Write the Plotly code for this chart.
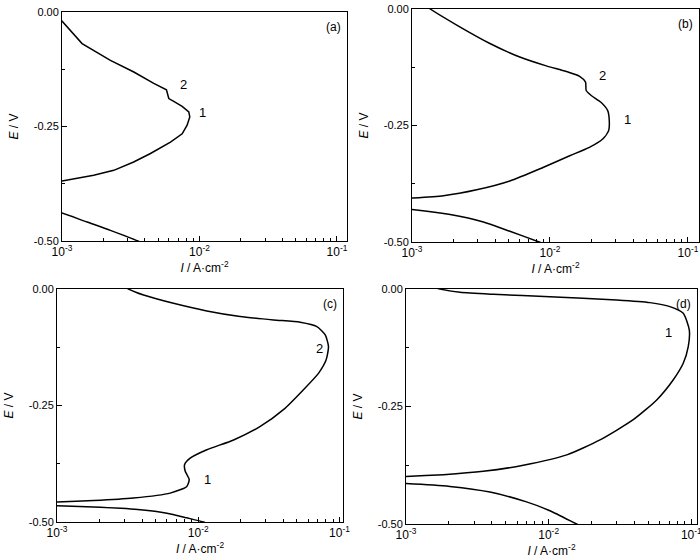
import math
import plotly.graph_objects as go

# ---------------- data ----------------
# Panel (a)
a_up_I = [9e-4, 1.0e-3, 1.40e-3, 2.25e-3, 3.33e-3, 4.65e-3, 5.75e-3, 5.85e-3, 5.98e-3, 6.5e-3, 7.48e-3,
          8.36e-3, 8.5e-3, 8.13e-3, 7.48e-3, 6.15e-3, 4.40e-3, 3.32e-3, 2.38e-3, 1.70e-3, 1.22e-3, 1.0e-3, 9e-4]
a_up_E = [-0.010, -0.020, -0.069, -0.1055, -0.131, -0.156, -0.170, -0.177, -0.189, -0.195, -0.206,
          -0.218, -0.229, -0.247, -0.266, -0.284, -0.309, -0.3275, -0.3457, -0.3566, -0.3654, -0.369, -0.371]
a_lo_I = [9e-4, 1.0e-3, 1.52e-3, 2.25e-3, 3.56e-3, 4.0e-3]
a_lo_E = [-0.435, -0.439, -0.4585, -0.4767, -0.500, -0.508]

# Panel (b)
b_up_I = [1.3e-3, 1.355e-3, 2.11e-3, 3.67e-3, 6.04e-3, 9.4e-3, 1.31e-2, 1.64e-2, 1.81e-2, 1.83e-2, 1.99e-2,
          2.34e-2, 2.62e-2, 2.69e-2, 2.66e-2, 2.41e-2, 1.93e-2, 1.39e-2, 8.9e-3, 5.12e-3, 2.94e-3, 1.69e-3, 1.0e-3, 9e-4]
b_up_E = [0.004, 0.0, -0.0345, -0.074, -0.103, -0.122, -0.134, -0.1446, -0.157, -0.175, -0.1856,
          -0.200, -0.218, -0.2396, -0.261, -0.279, -0.297, -0.315, -0.340, -0.369, -0.388, -0.4007, -0.4058, -0.4065]
b_lo_I = [9e-4, 1.0e-3, 1.89e-3, 3.29e-3, 5.12e-3, 8.34e-3, 9.0e-3]
b_lo_E = [-0.429, -0.430, -0.441, -0.457, -0.477, -0.500, -0.504]

# Panel (c)
c_up_I = [3.1e-3, 3.21e-3, 4.1e-3, 6.68e-3, 1.15e-2, 1.98e-2, 3.41e-2, 5.27e-2, 6.92e-2, 7.93e-2, 8.36e-2,
          8.05e-2, 7.1e-2, 5.56e-2, 4.01e-2, 2.75e-2, 1.78e-2, 1.15e-2, 8.77e-3, 8.0e-3, 8.09e-3, 8.63e-3,
          8.3e-3, 6.33e-3, 3.48e-3, 1.82e-3, 1.0e-3, 9e-4]
c_up_E = [0.003, 0.0, -0.0129, -0.0307, -0.047, -0.059, -0.0664, -0.0714, -0.0807, -0.0986, -0.1236,
          -0.152, -0.181, -0.216, -0.259, -0.295, -0.324, -0.345, -0.363, -0.377, -0.391, -0.409,
          -0.4236, -0.438, -0.4486, -0.454, -0.457, -0.4575]
c_lo_I = [9e-4, 1.0e-3, 2.03e-3, 3.89e-3, 6.0e-3, 8.3e-3, 1.09e-2, 1.15e-2]
c_lo_E = [-0.4645, -0.465, -0.4686, -0.4736, -0.481, -0.491, -0.500, -0.503]

# Panel (d)
d_up_I = [1.6e-3, 1.73e-3, 2.39e-3, 4.1e-3, 1.02e-2, 3.0e-2, 5.13e-2, 7.08e-2, 8.78e-2, 9.68e-2, 9.52e-2,
          8.78e-2, 7.48e-2, 5.72e-2, 3.92e-2, 2.29e-2, 1.34e-2, 6.64e-3, 3.48e-3, 1.83e-3, 1.0e-3, 9e-4]
d_up_E = [0.003, 0.0, -0.007, -0.0113, -0.0163, -0.0234, -0.029, -0.0375, -0.0517, -0.0871, -0.1225,
          -0.158, -0.193, -0.236, -0.278, -0.321, -0.353, -0.375, -0.388, -0.395, -0.399, -0.3995]
d_lo_I = [9e-4, 1.0e-3, 2.03e-3, 3.88e-3, 7.0e-3, 1.02e-2, 1.57e-2, 1.7e-2]
d_lo_E = [-0.4135, -0.414, -0.420, -0.432, -0.453, -0.4717, -0.500, -0.505]

panel_labels = ["(a)", "(b)", "(c)", "(d)"]
x_tick_vals = [1e-3, 1e-2, 1e-1]
x_tick_text = ["10<sup>-3</sup>", "10<sup>-2</sup>", "10<sup>-1</sup>"]
y_tick_vals = [0.0, -0.25, -0.5]
y_tick_text = ["0.00", "-0.25", "-0.50"]

# curve number labels: (panel index, text, I, E)
curve_labels = [
    (0, "2", 7.6e-3, -0.159), (0, "1", 1.05e-2, -0.22),
    (1, "2", 2.42e-2, -0.142), (1, "1", 3.67e-2, -0.237),
    (2, "2", 7.26e-2, -0.127), (2, "1", 1.17e-2, -0.408),
    (3, "1", 6.9e-2, -0.092),
]

curves = [
    [(a_up_I, a_up_E, "linear"), (a_lo_I, a_lo_E, "spline")],
    [(b_up_I, b_up_E, "spline"), (b_lo_I, b_lo_E, "spline")],
    [(c_up_I, c_up_E, "spline"), (c_lo_I, c_lo_E, "spline")],
    [(d_up_I, d_up_E, "spline"), (d_lo_I, d_lo_E, "spline")],
]

# ---------------- layout geometry ----------------
W, H = 700, 560
# pixel boxes on screen: left, right, top, bottom
boxes = [(62, 347, 12, 241), (412, 699, 9, 242), (57, 343, 289, 522), (406, 697, 289, 524)]
xranges = [[-3, -0.927], [-3, -0.92], [-3, -0.975], [-3, -0.96]]

minor_vals = [m * 10 ** e for e in (-3, -2, -1) for m in range(2, 10)]

FONT = "Liberation Sans, Arial, sans-serif"
TICK_FS = 11
TEXT_FS = 12
fig = go.Figure()

for i in range(4):
    xa = "x" if i == 0 else f"x{i+1}"
    ya = "y" if i == 0 else f"y{i+1}"
    for (xs, ys, shape) in curves[i]:
        fig.add_trace(go.Scatter(x=xs, y=ys, mode="lines", xaxis=xa, yaxis=ya,
                                 line=dict(color="black", width=1.5, shape=shape, smoothing=0.6),
                                 showlegend=False, hoverinfo="skip"))
    l, r, t, b = boxes[i]
    xdom = [l / W, min(r / W, 1.0)]
    ydom = [1 - b / H, 1 - t / H]
    xkey = "xaxis" if i == 0 else f"xaxis{i+1}"
    ykey = "yaxis" if i == 0 else f"yaxis{i+1}"
    fig.layout[xkey] = dict(
        type="log", range=xranges[i], domain=xdom, anchor=ya, automargin=False,
        showline=True, linecolor="black", linewidth=1, mirror=True,
        ticks="inside", ticklen=5, tickcolor="black", ticklabeloverflow="allow",
        tickvals=x_tick_vals, ticktext=x_tick_text, showgrid=False, zeroline=False,
        minor=dict(tickvals=minor_vals, ticks="inside", ticklen=3, tickcolor="black", showgrid=False),
        tickfont=dict(family=FONT, size=TICK_FS + 1, color="black"),
        title=dict(text="<i>I</i> / A·cm<sup>-2</sup>", font=dict(family=FONT, size=TEXT_FS, color="black"), standoff=0),
    )
    fig.layout[ykey] = dict(
        range=[-0.5, 0.0], domain=ydom, anchor=xa, automargin=False,
        showline=True, linecolor="black", linewidth=1, mirror=True,
        ticks="inside", ticklen=5, tickcolor="black", ticklabeloverflow="allow",
        tickvals=y_tick_vals, ticktext=y_tick_text, showgrid=False, zeroline=False,
        minor=dict(tickvals=[-0.125, -0.375], ticks="inside", ticklen=3, tickcolor="black", showgrid=False),
        tickfont=dict(family=FONT, size=TICK_FS, color="black"),
        title=dict(text="<i>E</i> / V", font=dict(family=FONT, size=TEXT_FS, color="black"), standoff=12),
    )
    fig.add_annotation(text=panel_labels[i], xref=f"{xa} domain", yref=f"{ya} domain",
                       x=0.985, y=0.975, xanchor="right", yanchor="top", showarrow=False,
                       font=dict(family=FONT, size=TEXT_FS, color="black"))

for (p, txt, xv, yv) in curve_labels:
    xa = "x" if p == 0 else f"x{p+1}"
    ya = "y" if p == 0 else f"y{p+1}"
    fig.add_annotation(text=txt, xref=xa, yref=ya, x=math.log10(xv), y=yv,
                       showarrow=False, font=dict(family=FONT, size=TEXT_FS + 1, color="black"))

fig.update_layout(width=W, height=H, margin=dict(l=0, r=0, t=0, b=0),
                  paper_bgcolor="white", plot_bgcolor="white", showlegend=False)

fig.write_html("out.html", config={"displayModeBar": False},
               post_script="document.body.style.margin='0';document.body.style.overflow='hidden';")
